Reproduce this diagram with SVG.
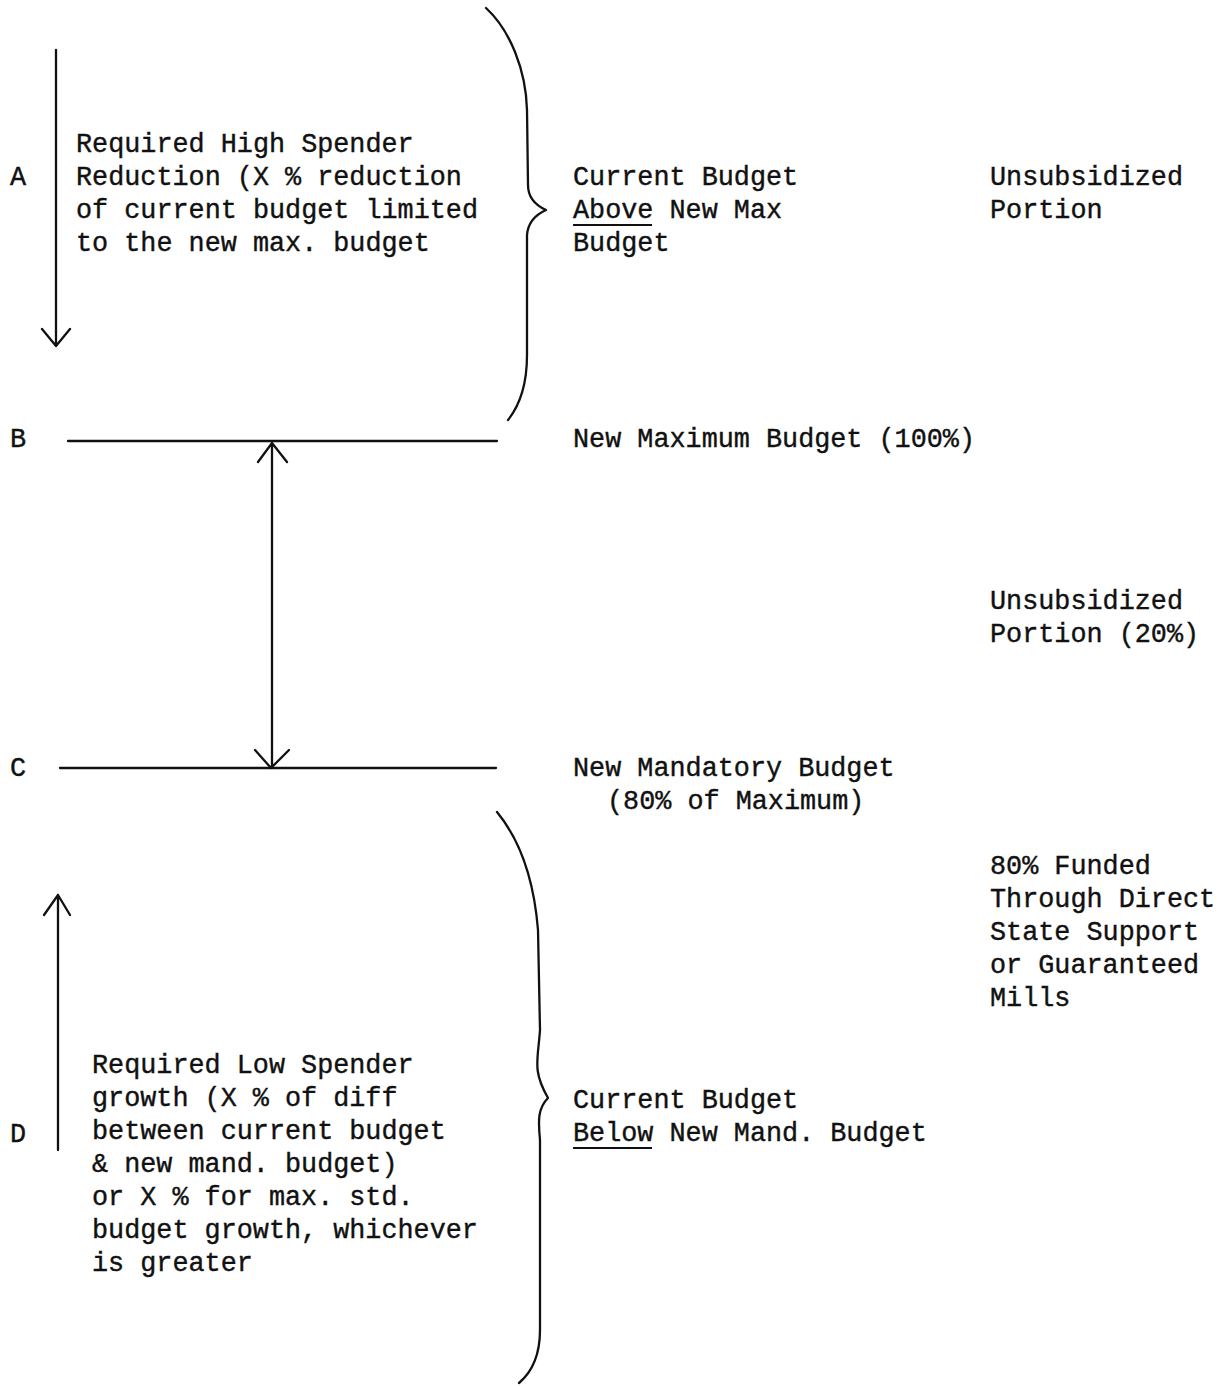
<svg xmlns="http://www.w3.org/2000/svg" width="1229" height="1386" viewBox="0 0 1229 1386">
<style>
text{font-family:"Liberation Mono","DejaVu Sans Mono",monospace;font-size:26.8px;fill:#111;stroke:#111;stroke-width:0.4}
.ln{stroke:#111;stroke-width:2.3;fill:none;stroke-linecap:round;stroke-linejoin:round}
.ul{stroke:#111;stroke-width:1.8}
</style>
<rect width="1229" height="1386" fill="#fff"/>
<g id="labels">
<text x="10" y="185">A</text>
<text x="10" y="447">B</text>
<text x="10" y="776">C</text>
<text x="10" y="1142">D</text>
</g>
<g id="levels">
<line class="ln" x1="68" y1="441" x2="497" y2="441"/>
<line class="ln" x1="60" y1="768" x2="496" y2="768"/>
</g>
<g id="connectors">
<path class="ln" d="M56 50 V346 M42 329 L56 346 L70 329"/>
<path class="ln" d="M272 443 V768 M258 462 L272 443 L287 462 M255 750 L271 768 L289 750"/>
<path class="ln" d="M58 1150 V895 M44 915 L58 895 L70 915"/>
</g>
<g id="braces">
<path class="ln" d="M486 8 C510 30 526 70 527 110 L528 185 C528 198 535 205 546 210 C535 215 528 222 527 235 L527 355 C527 385 520 405 508 420"/>
<path class="ln" d="M497 812 C520 840 534 880 538 930 L540 1030 C538 1060 532 1070 548 1098 C538 1108 538 1120 540 1140 L540 1330 C540 1355 532 1372 519 1383"/>
</g>
<g id="node-high">
<text x="76" y="152">Required High Spender</text>
<text x="76" y="185">Reduction (X % reduction</text>
<text x="76" y="218">of current budget limited</text>
<text x="76" y="251">to the new max. budget</text>
</g>
<g id="node-above">
<text x="573" y="185">Current Budget</text>
<text x="573" y="218">Above New Max</text>
<line class="ul" x1="573" y1="225" x2="652" y2="225"/>
<text x="573" y="251">Budget</text>
</g>
<g id="node-unsub1">
<text x="990" y="185">Unsubsidized</text>
<text x="990" y="218">Portion</text>
</g>
<g id="node-max">
<text x="573" y="447">New Maximum Budget (100%)</text>
</g>
<g id="node-unsub2">
<text x="990" y="609">Unsubsidized</text>
<text x="990" y="642">Portion (20%)</text>
</g>
<g id="node-mand">
<text x="573" y="776">New Mandatory Budget</text>
<text x="607" y="809">(80% of Maximum)</text>
</g>
<g id="node-funded">
<text x="990" y="874">80% Funded</text>
<text x="990" y="907">Through Direct</text>
<text x="990" y="940">State Support</text>
<text x="990" y="973">or Guaranteed</text>
<text x="990" y="1006">Mills</text>
</g>
<g id="node-low">
<text x="92" y="1073">Required Low Spender</text>
<text x="92" y="1106">growth (X % of diff</text>
<text x="92" y="1139">between current budget</text>
<text x="92" y="1172">&amp; new mand. budget)</text>
<text x="92" y="1205">or X % for max. std.</text>
<text x="92" y="1238">budget growth, whichever</text>
<text x="92" y="1271">is greater</text>
</g>
<g id="node-below">
<text x="573" y="1108">Current Budget</text>
<text x="573" y="1141">Below New Mand. Budget</text>
<line class="ul" x1="573" y1="1148" x2="652" y2="1148"/>
</g>
</svg>
